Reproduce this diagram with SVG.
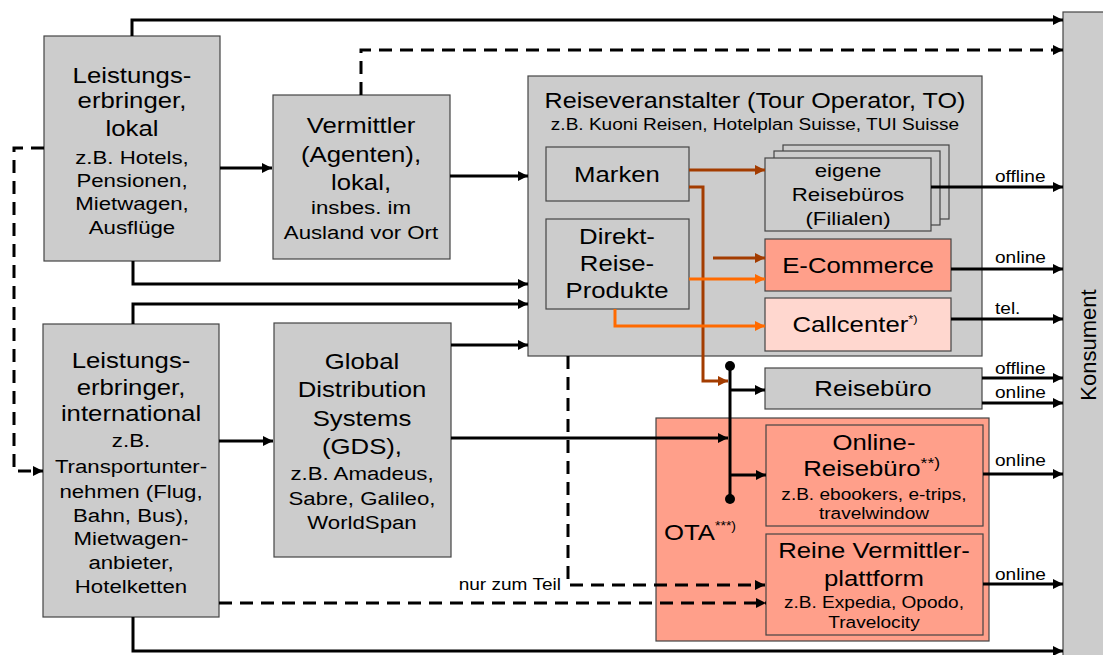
<svg xmlns="http://www.w3.org/2000/svg" width="1103" height="655" viewBox="0 0 1103 655">
<defs>
<style>
text{font-family:"Liberation Sans",Arial,sans-serif;fill:#000;text-anchor:middle}
.box{fill:#cccccc;stroke:#444;stroke-width:1.2}
.salmon{fill:#ff9f8a;stroke:#444;stroke-width:1.2}
.pink{fill:#ffd7cf;stroke:#444;stroke-width:1.2}
.ln{fill:none;stroke:#000;stroke-width:3}
.dash{fill:none;stroke:#000;stroke-width:3;stroke-dasharray:13 8}
.brown{fill:none;stroke:#a33c00;stroke-width:3}
.orange{fill:none;stroke:#ff6a00;stroke-width:3}
.big{font-size:22px}
.mid{font-size:19px}
.sm{font-size:16.3px}
.lbl{font-size:16.3px;text-anchor:start}
</style>
<marker id="ab" viewBox="0 0 10 10" refX="10" refY="5" markerWidth="12" markerHeight="10" markerUnits="userSpaceOnUse" orient="auto"><path d="M0,0L10,5L0,10z" fill="#000"/></marker>
<marker id="abr" viewBox="0 0 10 10" refX="10" refY="5" markerWidth="12" markerHeight="10" markerUnits="userSpaceOnUse" orient="auto"><path d="M0,0L10,5L0,10z" fill="#a33c00"/></marker>
<marker id="aor" viewBox="0 0 10 10" refX="10" refY="5" markerWidth="12" markerHeight="10" markerUnits="userSpaceOnUse" orient="auto"><path d="M0,0L10,5L0,10z" fill="#ff6a00"/></marker>
</defs>

<g id="konsument">
<rect class="box" x="1063" y="12" width="50" height="660"/>
<text transform="translate(1096,345) rotate(-90)" style="font-size:22px">Konsument</text>
</g>

<g id="to">
<rect class="box" x="528" y="76" width="454" height="280"/>
<g transform="matrix(1.17,0,0,1,-128.35,0)">
<text x="755" y="108" style="font-size:21.5px">Reiseveranstalter (Tour Operator, TO)</text>
<text x="755" y="130" class="sm">z.B. Kuoni Reisen, Hotelplan Suisse, TUI Suisse</text>
</g>
</g>

<g id="ota">
<rect class="salmon" x="656" y="418" width="333" height="223"/>
<g transform="matrix(1.17,0,0,1,-119,0)">
<text x="700" y="540" class="big">OTA<tspan font-size="12" dy="-10">***)</tspan></text>
</g>
</g>

<g id="lokal">
<rect class="box" x="44" y="36" width="176" height="225"/>
<g transform="matrix(1.17,0,0,1,-22.44,0)">
<text x="132" y="83" class="big">Leistungs-</text>
<text x="132" y="108" class="big">erbringer,</text>
<text x="132" y="136" class="big">lokal</text>
<text x="132" y="164" class="mid">z.B. Hotels,</text>
<text x="132" y="187" class="mid">Pensionen,</text>
<text x="132" y="210" class="mid">Mietwagen,</text>
<text x="132" y="234" class="mid">Ausflüge</text>
</g>
</g>

<g id="international">
<rect class="box" x="43" y="324" width="176" height="293"/>
<g transform="matrix(1.17,0,0,1,-22.27,0)">
<text x="131" y="368" class="big">Leistungs-</text>
<text x="131" y="395" class="big">erbringer,</text>
<text x="131" y="421" class="big">international</text>
<text x="131" y="447" class="mid">z.B.</text>
<text x="131" y="473" class="mid">Transportunter-</text>
<text x="131" y="498" class="mid">nehmen (Flug,</text>
<text x="131" y="522" class="mid">Bahn, Bus),</text>
<text x="131" y="545" class="mid">Mietwagen-</text>
<text x="131" y="569" class="mid">anbieter,</text>
<text x="131" y="593" class="mid">Hotelketten</text>
</g>
</g>

<g id="vermittler">
<rect class="box" x="273" y="95" width="177" height="164"/>
<g transform="matrix(1.17,0,0,1,-61.37,0)">
<text x="361" y="133" class="big">Vermittler</text>
<text x="361" y="162" class="big">(Agenten),</text>
<text x="361" y="190" class="big">lokal,</text>
<text x="361" y="214" class="mid">insbes. im</text>
<text x="361" y="239" class="mid">Ausland vor Ort</text>
</g>
</g>

<g id="gds">
<rect class="box" x="274" y="323" width="177" height="234"/>
<g transform="matrix(1.17,0,0,1,-61.54,0)">
<text x="362" y="369" class="big">Global</text>
<text x="362" y="397" class="big">Distribution</text>
<text x="362" y="426" class="big">Systems</text>
<text x="362" y="454" class="big">(GDS),</text>
<text x="362" y="480" class="mid">z.B. Amadeus,</text>
<text x="362" y="505" class="mid">Sabre, Galileo,</text>
<text x="362" y="529" class="mid">WorldSpan</text>
</g>
</g>

<g id="marken">
<rect class="box" x="546" y="147" width="143" height="54"/>
<g transform="matrix(1.17,0,0,1,-104.89,0)">
<text x="617" y="182" class="big">Marken</text>
</g>
</g>

<g id="direkt">
<rect class="box" x="546" y="219" width="143" height="90"/>
<g transform="matrix(1.17,0,0,1,-104.89,0)">
<text x="617" y="244" class="big">Direkt-</text>
<text x="617" y="271" class="big">Reise-</text>
<text x="617" y="298" class="big">Produkte</text>
</g>
</g>

<g id="eigene">
<rect class="box" x="783" y="145" width="166" height="74"/>
<rect class="box" x="774" y="151" width="166" height="74"/>
<rect class="box" x="765" y="158" width="166" height="73"/>
<g transform="matrix(1.17,0,0,1,-144.16,0)">
<text x="848" y="177" class="mid">eigene</text>
<text x="848" y="201" class="mid">Reisebüros</text>
<text x="848" y="225" class="mid">(Filialen)</text>
</g>
</g>

<g id="ecommerce">
<rect class="salmon" x="765" y="239" width="186" height="52"/>
<g transform="matrix(1.17,0,0,1,-145.86,0)">
<text x="858" y="273" class="big">E-Commerce</text>
</g>
</g>

<g id="callcenter">
<rect class="pink" x="765" y="298" width="186" height="53"/>
<g transform="matrix(1.17,0,0,1,-145.35,0)">
<text x="855" y="332" class="big">Callcenter<tspan font-size="11" dy="-9">*)</tspan></text>
</g>
</g>

<g id="reisebuero">
<rect class="box" x="765" y="368" width="217" height="41"/>
<g transform="matrix(1.17,0,0,1,-148.41,0)">
<text x="873" y="396" class="big">Reisebüro</text>
</g>
</g>

<g id="online-reisebuero">
<rect class="salmon" x="766" y="425" width="217" height="101"/>
<g transform="matrix(1.17,0,0,1,-148.58,0)">
<text x="874" y="450" class="big">Online-</text>
<text x="872" y="476" class="big">Reisebüro<tspan font-size="15" dy="-8">**)</tspan></text>
<text x="874" y="500" class="sm">z.B. ebookers, e-trips,</text>
<text x="874" y="519" class="sm">travelwindow</text>
</g>
</g>

<g id="plattform">
<rect class="salmon" x="766" y="534" width="217" height="101"/>
<g transform="matrix(1.17,0,0,1,-148.58,0)">
<text x="874" y="558" class="big">Reine Vermittler-</text>
<text x="874" y="586" class="big">plattform</text>
<text x="874" y="608" class="sm">z.B. Expedia, Opodo,</text>
<text x="874" y="628" class="sm">Travelocity</text>
</g>
</g>

<g id="connectors">
<path class="ln" d="M132,36V20H1063" marker-end="url(#ab)"/>
<path class="dash" d="M361,95V50H1063" marker-end="url(#ab)"/>
<path class="ln" d="M220,168H272" marker-end="url(#ab)"/>
<path class="ln" d="M450,176H528" marker-end="url(#ab)"/>
<path class="ln" d="M133,261V284H528" marker-end="url(#ab)"/>
<path class="ln" d="M133,324V304H528" marker-end="url(#ab)"/>
<path class="dash" d="M44,148H14V471H43" marker-end="url(#ab)"/>
<path class="ln" d="M219,441H273" marker-end="url(#ab)"/>
<path class="ln" d="M451,345H528" marker-end="url(#ab)"/>
<path class="ln" d="M451,438H728" marker-end="url(#ab)"/>
<path class="ln" d="M133,617V651H1063" marker-end="url(#ab)"/>
<path class="dash" d="M568,356V585H765" marker-end="url(#ab)"/>
<path class="dash" d="M219,603H766" marker-end="url(#ab)"/>
<path class="brown" d="M689,170H765" marker-end="url(#abr)"/>
<path class="brown" d="M689,187H703V381H728" marker-end="url(#abr)"/>
<path class="brown" d="M713,258H765" marker-end="url(#abr)"/>
<path class="orange" d="M689,279H765" marker-end="url(#aor)"/>
<path class="orange" d="M615,309V326H765" marker-end="url(#aor)"/>
<path class="ln" d="M730,366V499"/>
<circle cx="730" cy="366" r="5" fill="#000"/>
<circle cx="730" cy="499" r="5" fill="#000"/>
<path class="ln" d="M730,390H765" marker-end="url(#ab)"/>
<path class="ln" d="M730,475H766" marker-end="url(#ab)"/>
<path class="ln" d="M931,187H1063" marker-end="url(#ab)"/>
<path class="ln" d="M951,269H1063" marker-end="url(#ab)"/>
<path class="ln" d="M951,319H1063" marker-end="url(#ab)"/>
<path class="ln" d="M982,378H1063" marker-end="url(#ab)"/>
<path class="ln" d="M982,403H1063" marker-end="url(#ab)"/>
<path class="ln" d="M983,474H1063" marker-end="url(#ab)"/>
<path class="ln" d="M983,584H1063" marker-end="url(#ab)"/>
<g transform="matrix(1.17,0,0,1,-169.15,0)">
<text class="lbl" x="995" y="182">offline</text>
<text class="lbl" x="995" y="263">online</text>
<text class="lbl" x="995" y="314">tel.</text>
<text class="lbl" x="995" y="374">offline</text>
<text class="lbl" x="995" y="398">online</text>
<text class="lbl" x="995" y="466">online</text>
<text class="lbl" x="995" y="580">online</text>
</g>
<g transform="matrix(1.17,0,0,1,-95.37,0)">
<text class="sm" x="561" y="590" style="text-anchor:end">nur zum Teil</text>
</g>
</g>
</svg>
